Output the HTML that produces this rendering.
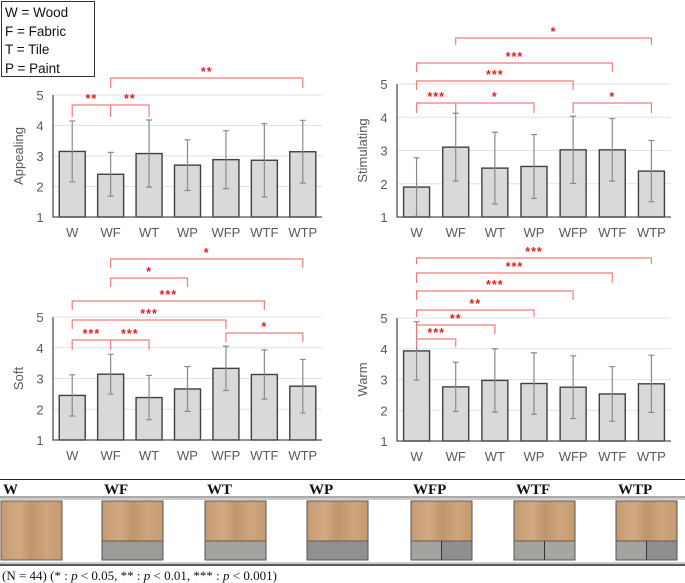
<!DOCTYPE html>
<html><head><meta charset="utf-8"><style>
body{margin:0;background:#fff;width:685px;height:583px;overflow:hidden;position:relative;font-family:"Liberation Sans",sans-serif}
svg{position:absolute;left:0;top:0}
</style></head><body>
<svg id="s" width="685" height="583">
<g>
<rect x="1.5" y="1.5" width="93" height="75" fill="#fff" stroke="#333" stroke-width="1"/>
<text x="5" y="17" font-size="13.5" fill="#111">W = Wood</text>
<text x="5" y="36" font-size="13.5" fill="#111">F = Fabric</text>
<text x="5" y="54" font-size="13.5" fill="#111">T = Tile</text>
<text x="5" y="73" font-size="13.5" fill="#111">P = Paint</text>
</g>
<g>
<line x1="0" y1="479.5" x2="685" y2="479.5" stroke="#222" stroke-width="1"/>
<line x1="0" y1="497" x2="685" y2="497" stroke="#555" stroke-width="1"/>
<line x1="0" y1="499" x2="685" y2="499" stroke="#999" stroke-width="1"/>
<line x1="0" y1="563" x2="685" y2="563" stroke="#999" stroke-width="1"/>
<line x1="0" y1="565" x2="685" y2="565" stroke="#222" stroke-width="1.5"/>
<text x="2" y="580" font-family="Liberation Serif,serif" font-size="13" fill="#111">(N = 44) (* : <tspan font-style="italic">p</tspan> &lt; 0.05, ** : <tspan font-style="italic">p</tspan> &lt; 0.01, *** : <tspan font-style="italic">p</tspan> &lt; 0.001)</text>
</g>
</svg>
<script>
const NS='http://www.w3.org/2000/svg';
const svg=document.getElementById('s');
function el(t,a,p){const e=document.createElementNS(NS,t);for(const k in a)e.setAttribute(k,a[k]);(p||svg).appendChild(e);return e;}

const categories=['W','WF','WT','WP','WFP','WTF','WTP'];
const appealingMeans=[3.15,2.4,3.08,2.7,2.88,2.86,3.14];
const appealingErr=[1.0,0.72,1.1,0.83,0.95,1.2,1.03];
const stimulatingMeans=[1.9,3.1,2.47,2.52,3.02,3.02,2.38];
const stimulatingErr=[0.88,1.02,1.08,0.96,1.01,0.94,0.92];
const softMeans=[2.45,3.14,2.38,2.66,3.33,3.13,2.75];
const softErr=[0.67,0.65,0.72,0.73,0.72,0.8,0.87];
const warmMeans=[3.93,2.76,2.97,2.87,2.75,2.53,2.86];
const warmErr=[0.95,0.8,1.03,1.0,1.02,0.89,0.93];
const yTicks=[1,2,3,4,5];
// brackets: [fromIndex, toIndex, label, midIndex or -1]
const appealingSig=[[1,6,'**',-1],[0,2,'** **',1]];
const stimulatingSig=[[1,6,'*',-1],[0,5,'***',-1],[0,4,'***',-1],[0,3,'*** *',1],[4,6,'*',-1]];
const softSig=[[1,6,'*',-1],[1,3,'*',-1],[0,5,'***',-1],[0,4,'***',-1],[0,2,'*** ***',1],[4,6,'*',-1]];
const warmSig=[[0,6,'***',-1],[0,5,'***',-1],[0,4,'***',-1],[0,3,'**',-1],[0,2,'**',-1],[0,1,'***',-1]];

function chart(name,title,means,err,sig,ax,x1,y5,y1,bracketY,tickLen){
  const g=el('g',{});
  
  
  const step=(x1-ax)/7;
  const xc=i=>ax+step*(i+0.5);
  const y=v=>y1+(v-1)*(y5-y1)/4;
  yTicks.forEach(t=>{
    if(t>1){const l=el('line',{x1:ax,x2:x1,y1:y(t),y2:y(t),stroke:'#e2e2e2','stroke-width':1},g);
    }
    const tx=el('text',{x:ax-13,y:y(t)+5,'font-size':13,fill:'#595959','text-anchor':'middle'},g);
    
    tx.textContent=t;
  });
  const yt=el('text',{transform:`translate(${ax-30},${(y5+y1)/2}) rotate(-90)`,'font-size':13,fill:'#595959','text-anchor':'middle'},g);
  
  yt.textContent=title;
  means.forEach((m,i)=>{
    const b=el('rect',{x:xc(i)-13,y:y(m),width:26,height:y(1)-y(m),fill:'#d9d9d9',stroke:'#404040','stroke-width':1.4},g);
    
    const e=el('path',{d:`M${xc(i)},${y(m+err[i])}V${y(Math.max(1,m-err[i]))}M${xc(i)-3},${y(m+err[i])}h6M${xc(i)-3},${y(m-err[i])}h6`,stroke:'#8a8a8a','stroke-width':1.2,fill:'none'},g);
    
    const lb=el('text',{x:xc(i),y:y(1)+20,'font-size':13,fill:'#595959','text-anchor':'middle'},g);
    
    lb.textContent=categories[i];
  });
  const axl=el('path',{d:`M${ax},${y5}V${y1}H${x1}`,stroke:'#555','stroke-width':1.3,fill:'none'},g);
  
  sig.forEach((s,k)=>{
    const by=bracketY[k],tl=tickLen[k];
    let d=`M${xc(s[0])},${by+tl}V${by}H${xc(s[1])}V${by+tl}`;
    if(s[3]>=0)d+=`M${xc(s[3])},${by}V${by+tl}`;
    const p=el('path',{d,stroke:'#f47c7c','stroke-width':1.2,fill:'none'},g);
    
    const parts=s[2].split(' ');
    const segs=parts.length===2?[[s[0],s[3]],[s[3],s[1]]]:[[s[0],s[1]]];
    segs.forEach((pr,j)=>{
      const t=el('text',{x:(xc(pr[0])+xc(pr[1]))/2,y:by-2,'font-size':12.5,fill:'#e02020','text-anchor':'middle','font-weight':'bold','letter-spacing':'1'},g);
      
      t.textContent=parts[j];
    });
  });
}
chart('appealing','Appealing',appealingMeans,appealingErr,appealingSig,53,322,95,217,[78,105],[10,12]);
chart('stimulating','Stimulating',stimulatingMeans,stimulatingErr,stimulatingSig,397,671,84,217,[38,63,81,103,103],[7,9,9,10,10]);
chart('soft','Soft',softMeans,softErr,softSig,53,322,317,440,[259,278,301,320,340,333],[9,9,9,9,10,9]);
chart('warm','Warm',warmMeans,warmErr,warmSig,397,671,318,441,[258,273,291,310,325,339],[6,10,9,7,9,8]);

// sample table
const imgX=[1,102,205,307,411,514,616];
const kinds=['none','fabric','tile','paint','fp','tf','tp'];
const tg=el('g',{});

const defs=el('defs',{},tg);
const lg=el('linearGradient',{id:'wood',x1:0,x2:1,y1:0,y2:0},defs);
[['0','#c49a72'],['0.3','#d2aa82'],['0.5','#bf956c'],['0.75','#d0a47c'],['1','#c59b72']].forEach(s=>el('stop',{offset:s[0],'stop-color':s[1]},lg));
categories.forEach((c,i)=>{
  const x=imgX[i];
  const h=el('text',{x:x+2,y:494,'font-family':'Liberation Serif,serif','font-size':15,'font-weight':'bold',fill:'#111'},tg);
  
  h.textContent=c;
  const k=kinds[i];
  const r=el('rect',{x,y:501,width:61,height:59,fill:'url(#wood)',stroke:'#6b5a4a','stroke-width':1},tg);
  
  if(k!=='none'){
    const colsL={fabric:'#9a9c98',tile:'#a3a4a0',paint:'#8f9092',fp:'#a2a4a0',tf:'#a2a4a0',tp:'#a2a4a0'};
    const colsR={fabric:'#9a9c98',tile:'#a3a4a0',paint:'#8f9092',fp:'#8e8f91',tf:'#a5a6a2',tp:'#8e8f91'};
    el('rect',{x,y:541,width:30.5,height:19,fill:colsL[k]},tg);
    el('rect',{x:x+30.5,y:541,width:30.5,height:19,fill:colsR[k]},tg);
    el('line',{x1:x,x2:x+61,y1:541,y2:541,stroke:'#6b5a4a','stroke-width':1},tg);
    if(k==='fp'||k==='tf'||k==='tp')el('line',{x1:x+30.5,x2:x+30.5,y1:541,y2:560,stroke:'#333','stroke-width':1},tg);
    el('rect',{x,y:501,width:61,height:59,fill:'none',stroke:'#555','stroke-width':1},tg);
  }
});
</script>
</body></html>
